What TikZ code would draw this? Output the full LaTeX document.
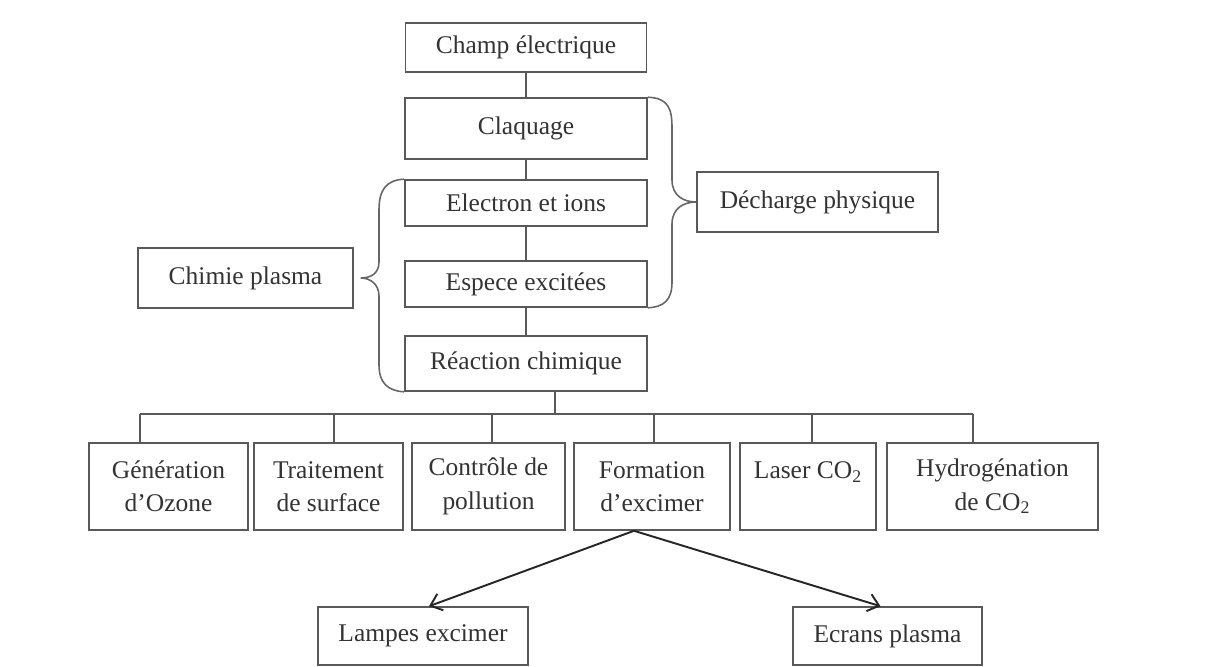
\documentclass[tikz,border=0pt]{standalone}
\usepackage{fontspec}
\setmainfont{Liberation Serif}
\usetikzlibrary{calc,arrows.meta}

\tikzset{
  box/.style={draw=black!65, line width=0.9pt, text=black!80, align=center, inner sep=2pt},
  wh/.style 2 args={minimum width=#1*0.02cm, minimum height=#2*0.02cm},
  link/.style={draw=black!65, line width=0.9pt},
  brace/.style={draw=black!60, line width=0.9pt},
  arrow/.style={-{Straight Barb[length=6pt, width=10pt]}, draw=black!85, line width=1.1pt},
}

\begin{document}
\begin{tikzpicture}[x=0.02cm, y=-0.02cm, font=\fontsize{14.5}{19}\selectfont]
                \fill[white] (0,0) rectangle (1212,666);
                \useasboundingbox (0,0) rectangle (1212,666);

                % middle column
                \node[box, wh={241}{49}] (champ) at (526,47.5) {Champ électrique};
                \node[box, wh={242}{61}] (claq) at (526,128.5) {Claquage};
                \node[box, wh={242}{46}] (elec) at (526,203) {Electron et ions};
                \node[box, wh={242}{46}] (esp) at (526,284) {Espece excitées};
                \node[box, wh={242}{55}] (reac) at (526,363.5) {Réaction chimique};
                \foreach \a/\b in {champ/claq, claq/elec, elec/esp, esp/reac}
                    \draw[link] (\a) -- (\b);

                % groups
                \node[box, wh={215}{60}] (chimie) at (245.5,278) {Chimie plasma};
                \node[box, wh={241}{60}] (decharge) at (817.5,202) {Décharge physique};
                \draw[brace] (claq.north east) .. controls (668,98) and (672,108) .. (672,128)
                    -- (672,180) .. controls (672,196) and (684,202) .. (decharge.west)
                    .. controls (684,202) and (672,208) .. (672,224)
                    -- (672,282) .. controls (672,300) and (664,307) .. (esp.south east);
                \coordinate (ctip) at ($(chimie.east)+(7,0)$);
                \draw[brace] (elec.north west) .. controls (386,180) and (379,190) .. (379,210)
                    -- (379,262) .. controls (379,274) and (370,278) .. (ctip)
                    .. controls (370,278) and (379,284) .. (379,296)
                    -- (379,365) .. controls (379,383) and (388,391) .. (reac.south west);

                % applications
                \node[box, wh={159}{87}] (gen) at (168.5,486.5) {Génération\\d’Ozone};
                \node[box, wh={149}{87}] (trait) at (328.5,486.5) {Traitement\\de surface};
                \node[box, wh={153}{87}] (ctrl) at (488.5,486.5) {Contrôle de\\pollution};
                \node[box, wh={156}{87}] (form) at (652,486.5) {Formation\\d’excimer};
                \node[box, wh={136}{87}] (laser) at (808,486.5) {Laser CO\textsubscript{2}\\\mbox{}};
                \node[box, wh={211}{87}] (hydro) at (992.5,486.5) {Hydrogénation\\de CO\textsubscript{2}};

                \coordinate (bus) at (555,414);
                \draw[link] (reac.south -| bus) -- (bus);
                \draw[link] (140,414) -- (973,414);
                \foreach \n/\x in {gen/140, trait/334, ctrl/492, form/654, laser/812, hydro/973}
                    \draw[link] (\x,414) -- (\x,0 |- \n.north);

                % excimer uses
                \node[box, wh={210}{58}] (lampes) at (423,636) {Lampes excimer};
                \node[box, wh={189}{58}] (ecrans) at (887.5,636) {Ecrans plasma};
                \coordinate (fork) at ($(form.south)+(-18,0)$);
                \draw[arrow] (fork) -- ($(lampes.north)+(6,0)$);
                \draw[arrow] (fork) -- ($(ecrans.north)+(-7,0)$);
            \end{tikzpicture}
\end{document}
